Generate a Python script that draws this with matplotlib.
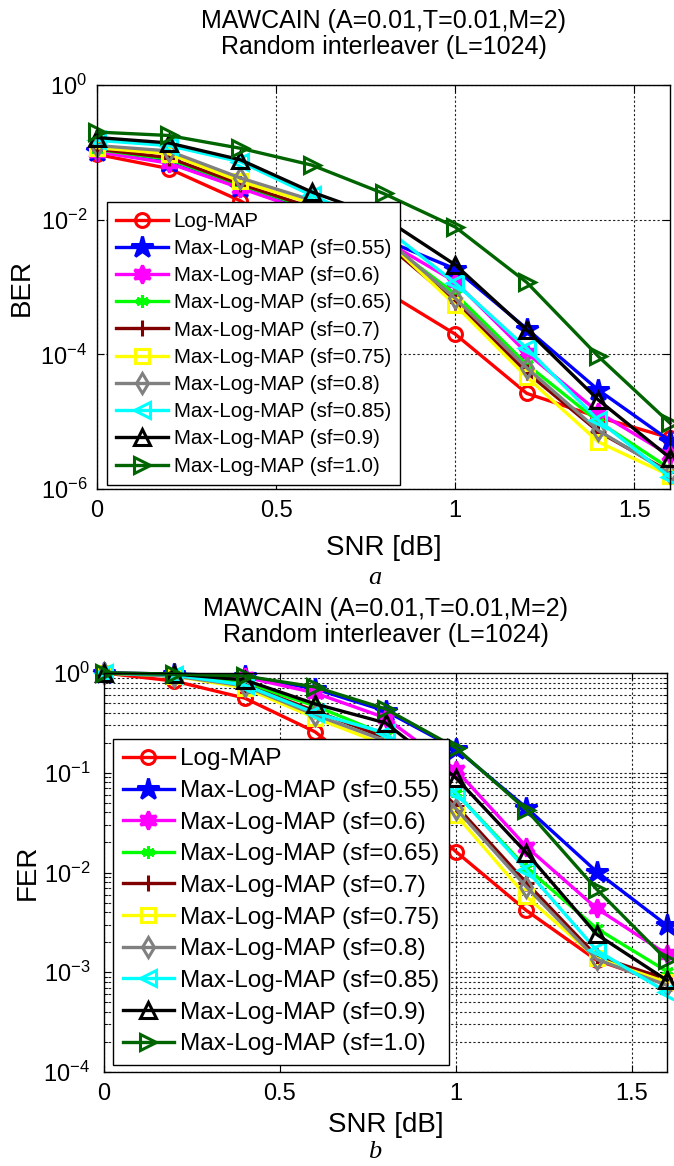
import matplotlib
matplotlib.use("Agg")
import matplotlib.pyplot as plt
from matplotlib.ticker import LogLocator, FixedLocator, NullLocator, NullFormatter, LogFormatterSciNotation

plt.rcParams['font.family'] = ['Liberation Sans', 'DejaVu Sans']
plt.rcParams['mathtext.default'] = 'regular'

snr = [0.0, 0.2, 0.4, 0.6, 0.8, 1.0, 1.2, 1.4, 1.6]

labels = ["Log-MAP", "Max-Log-MAP (sf=0.55)", "Max-Log-MAP (sf=0.6)",
          "Max-Log-MAP (sf=0.65)", "Max-Log-MAP (sf=0.7)", "Max-Log-MAP (sf=0.75)",
          "Max-Log-MAP (sf=0.8)", "Max-Log-MAP (sf=0.85)", "Max-Log-MAP (sf=0.9)",
          "Max-Log-MAP (sf=1.0)"]

ber_logmap = [0.0933, 0.0575, 0.0191, 4.17e-3, 8.9e-4, 2.0e-4, 2.63e-5, 1.17e-5, 5.75e-6]
ber_sf055 = [0.105, 0.0708, 0.0302, 0.0132, 5.1e-3, 1.86e-3, 2.4e-4, 2.95e-5, 5.2e-6]
ber_sf060 = [0.102, 0.0692, 0.0295, 0.0126, 5.0e-3, 1.2e-3, 1.05e-4, 1.38e-5, 3.16e-6]
ber_sf065 = [0.110, 0.0794, 0.0331, 0.0145, 5.0e-3, 7.9e-4, 7.1e-5, 1.0e-5, 2.0e-6]
ber_sf070 = [0.112, 0.0832, 0.0339, 0.0151, 4.7e-3, 6.0e-4, 5.4e-5, 7.1e-6, 1.78e-6]
ber_sf075 = [0.117, 0.0955, 0.0372, 0.0174, 5.5e-3, 5.4e-4, 4.6e-5, 5.0e-6, 1.58e-6]
ber_sf080 = [0.126, 0.105, 0.0417, 0.0195, 5.6e-3, 6.8e-4, 6.3e-5, 7.4e-6, 1.7e-6]
ber_sf085 = [0.151, 0.126, 0.0724, 0.0229, 7.9e-3, 1.15e-3, 1.23e-4, 1.05e-5, 1.5e-6]
ber_sf090 = [0.166, 0.138, 0.0776, 0.0257, 0.0107, 2.14e-3, 2.3e-4, 2.1e-5, 2.9e-6]
ber_sf100 = [0.200, 0.178, 0.115, 0.0646, 0.0245, 7.8e-3, 1.17e-3, 9.3e-5, 9.5e-6]

fer_logmap = [1.0, 0.83, 0.56, 0.257, 0.0708, 0.0162, 4.17e-3, 1.32e-3, 7.6e-4]
fer_sf055 = [1.0, 0.977, 0.933, 0.692, 0.417, 0.174, 0.0447, 0.0102, 2.95e-3]
fer_sf060 = [1.0, 0.955, 0.912, 0.631, 0.355, 0.107, 0.0182, 4.37e-3, 1.51e-3]
fer_sf065 = [1.0, 0.933, 0.794, 0.468, 0.24, 0.063, 0.0112, 2.75e-3, 1.02e-3]
fer_sf070 = [1.0, 0.933, 0.759, 0.417, 0.224, 0.0468, 7.9e-3, 1.45e-3, 8.5e-4]
fer_sf075 = [1.0, 0.933, 0.708, 0.355, 0.19, 0.038, 5.75e-3, 1.38e-3, 7.9e-4]
fer_sf080 = [1.0, 0.933, 0.741, 0.38, 0.209, 0.0437, 7.2e-3, 1.35e-3, 7.4e-4]
fer_sf085 = [1.0, 0.955, 0.759, 0.398, 0.251, 0.063, 0.0107, 1.66e-3, 6.3e-4]
fer_sf090 = [1.0, 0.977, 0.851, 0.49, 0.316, 0.089, 0.0158, 2.4e-3, 8.3e-4]
fer_sf100 = [1.0, 0.977, 0.933, 0.724, 0.437, 0.178, 0.0427, 6.8e-3, 1.32e-3]

ber = [ber_logmap, ber_sf055, ber_sf060, ber_sf065, ber_sf070, ber_sf075,
       ber_sf080, ber_sf085, ber_sf090, ber_sf100]
fer = [fer_logmap, fer_sf055, fer_sf060, fer_sf065, fer_sf070, fer_sf075,
       fer_sf080, fer_sf085, fer_sf090, fer_sf100]

colors = ['#FF0000', '#0000FF', '#FF00FF', '#00FF00', '#800000', '#FFFF00',
          '#808080', '#00FFFF', '#000000', '#006400']
markers = ['o', '*', (6, 1, 0), (6, 2, 0), '+', 's', 'd', '<', '^', '>']
msizes = [10, 16, 13, 9, 11, 10, 10, 12, 12, 12]
filled = [False, True, True, False, False, False, False, False, False, False]

fig = plt.figure(figsize=(6.74, 11.66), dpi=100)

ax1 = fig.add_axes([97/674, 1-489/1166, 573/674, 404/1166])
ax2 = fig.add_axes([104/674, 1-1072/1166, 563/674, 399/1166])

def draw(ax, data, xpad, ypad):
    for d, c, m, ms, f, lab in zip(data, colors, markers, msizes, filled, labels):
        ax.plot(snr, d, color=c, lw=2.4, marker=m, ms=ms, mew=2.2,
                mfc=(c if f else 'none'), mec=c, label=lab, clip_on=False)
    ax.set_yscale('log')
    ax.set_xlim(0, 1.6)
    ax.set_xticks([0, 0.5, 1, 1.5])
    ax.set_xticklabels(['0', '0.5', '1', '1.5'])
    ax.tick_params(direction='in', which='both', top=True, right=True, labelsize=17)
    ax.tick_params(which='major', length=5)
    ax.tick_params(which='minor', length=3)
    ax.tick_params(axis='x', pad=8)
    ax.tick_params(axis='y', pad=ypad)
    for s in ax.spines.values():
        s.set_linewidth(1.0)
    ax.set_xlabel('SNR [dB]', fontsize=20, labelpad=xpad)
    ax.set_title('MAWCAIN (A=0.01,T=0.01,M=2)\nRandom interleaver (L=1024)',
                 fontsize=18, linespacing=1.12, pad=22)

draw(ax1, ber, 9, 7)
ax1.set_ylim(1e-6, 1)
ax1.yaxis.set_major_locator(FixedLocator([1e-6, 1e-4, 1e-2, 1]))
ax1.yaxis.set_major_formatter(LogFormatterSciNotation())
ax1.yaxis.set_minor_locator(NullLocator())
ax1.grid(True, which='major', ls=(0, (2, 2)), color='#222222', lw=0.8)
ax1.set_ylabel('BER', fontsize=20, labelpad=4)
leg1 = ax1.legend(loc='lower left', bbox_to_anchor=(0.0175, 0.01), borderaxespad=0,
                  fontsize=14.8, handlelength=2.5, handletextpad=0.3, labelspacing=0.40,
                  borderpad=0.45, fancybox=False, edgecolor='black', framealpha=1)
leg1.get_frame().set_linewidth(1.0)

draw(ax2, fer, 5, 10)
ax2.set_ylim(1e-4, 1)
ax2.yaxis.set_major_locator(LogLocator(base=10, numticks=10))
ax2.yaxis.set_major_formatter(LogFormatterSciNotation())
ax2.yaxis.set_minor_locator(LogLocator(base=10, subs=range(2, 10), numticks=20))
ax2.yaxis.set_minor_formatter(NullFormatter())
ax2.grid(True, which='major', ls=(0, (2, 2)), color='#222222', lw=0.8)
ax2.grid(True, which='minor', axis='y', ls=(0, (2, 2)), color='#222222', lw=0.8)
ax2.set_ylabel('FER', fontsize=20, labelpad=2)
leg2 = ax2.legend(loc='lower left', bbox_to_anchor=(0.016, 0.0175), borderaxespad=0,
                  fontsize=17.6, handlelength=2.1, handletextpad=0.25, labelspacing=0.39,
                  borderpad=0.4, fancybox=False, edgecolor='black', framealpha=1)
leg2.get_frame().set_linewidth(1.0)

fig.text(375/674, 1-578/1166, 'a', fontsize=19, style='italic',
         family=['Liberation Serif', 'DejaVu Serif'], ha='center', va='center')
fig.text(375/674, 1-1152/1166, 'b', fontsize=19, style='italic',
         family=['Liberation Serif', 'DejaVu Serif'], ha='center', va='center')

fig.savefig('out.png', dpi=100)
